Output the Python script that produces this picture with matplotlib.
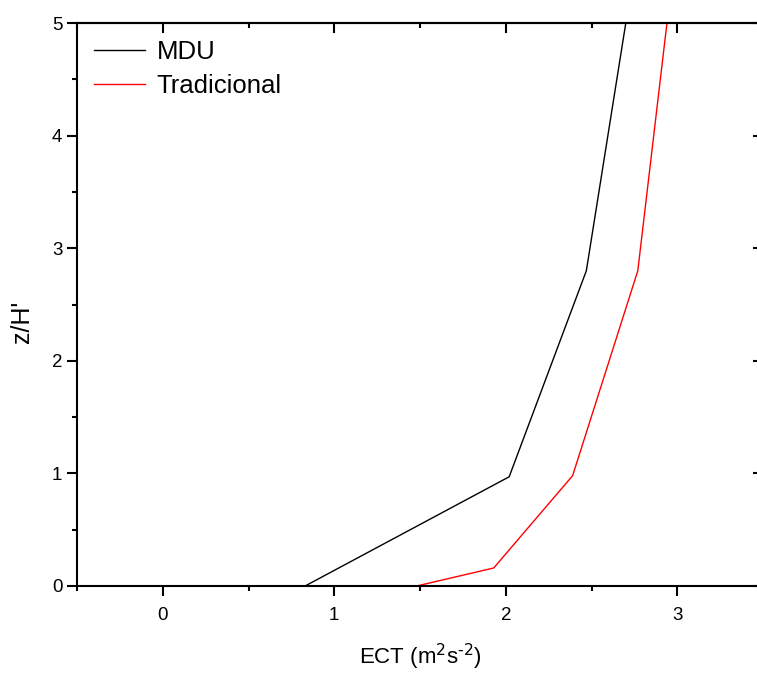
import numpy as np
import matplotlib
matplotlib.use('Agg')
import matplotlib.pyplot as plt
from matplotlib.ticker import MultipleLocator

plt.rcParams['font.family'] = ['Liberation Sans', 'DejaVu Sans']

# perfil vertical de ECT
z_mdu = [0.0, 0.97, 2.80, 5.0]
ect_mdu = [0.83, 2.02, 2.47, 2.70]

z_trad = [0.0, 0.16, 0.98, 2.80, 5.0]
ect_trad = [1.48, 1.93, 2.39, 2.77, 2.94]

fig = plt.figure(figsize=(7.57, 6.73), dpi=100)
# the right side of the frame is cut off in the original
ax = fig.add_axes([77 / 757, 87 / 673, 686 / 757, 563 / 673])

ax.plot(ect_mdu, z_mdu, color='black', lw=1.0, label='MDU')
ax.plot(ect_trad, z_trad, color='red', lw=1.0, label='Tradicional')

ax.set_xlim(-0.5, 3.5)
ax.set_ylim(0, 5)
ax.xaxis.set_major_locator(MultipleLocator(1))
ax.xaxis.set_minor_locator(MultipleLocator(0.5))
ax.yaxis.set_major_locator(MultipleLocator(1))
ax.yaxis.set_minor_locator(MultipleLocator(0.5))

for s in ax.spines.values():
    s.set_linewidth(1.5)

ax.tick_params(which='both', direction='out', width=1.5, labelsize=13.5,
               top=False, right=False)
ax.tick_params(which='major', length=7)
ax.tick_params(which='minor', length=3.5)
ax.tick_params(axis='x', pad=8)

# inward ticks on the top / right edges
sec_x = ax.secondary_xaxis('top')
sec_x.xaxis.set_major_locator(MultipleLocator(1))
sec_x.xaxis.set_minor_locator(MultipleLocator(0.5))
sec_x.tick_params(which='both', direction='in', width=1.5, labeltop=False)
sec_x.tick_params(which='major', length=7)
sec_x.tick_params(which='minor', length=3.5)
sec_x.spines['top'].set_linewidth(1.5)

sec_y = ax.secondary_yaxis('right')
sec_y.yaxis.set_major_locator(MultipleLocator(1))
sec_y.yaxis.set_minor_locator(MultipleLocator(0.5))
sec_y.tick_params(which='both', direction='in', width=1.5, labelright=False)
sec_y.tick_params(which='major', length=7)
sec_y.tick_params(which='minor', length=3.5)

ax.set_xlabel(r'ECT (m$^{\text{2}}$s$^{\text{-2}}$)', fontsize=16, labelpad=13)
ax.set_ylabel("z/H'", fontsize=18)
ax.yaxis.set_label_coords(-0.062, 0.47)

ax.legend(loc='upper left', frameon=False, fontsize=18.5, handlelength=2.0,
          handletextpad=0.45, borderaxespad=0.25, labelspacing=0.42,
          borderpad=0.4)

fig.savefig('out.png', dpi=100)
